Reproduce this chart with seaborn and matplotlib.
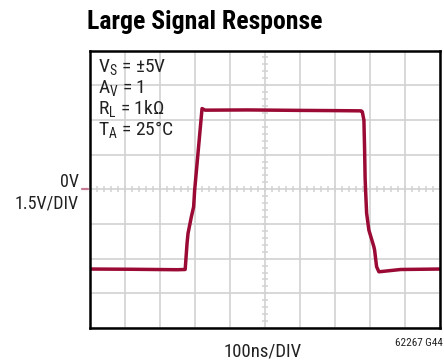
import numpy as np
import pandas as pd
import matplotlib
matplotlib.use("Agg")
import matplotlib.pyplot as plt
from matplotlib import font_manager
import seaborn as sns

# Scope trace: time in ns, voltage in V
time_ns = [0, 120, 250, 273.0, 278.3, 281.1, 290.6, 297.1, 300.0, 321.1, 330.0,
           450, 600, 700, 775.0, 778.3, 782.9, 784.9, 786.3, 787.7, 790.6,
           797.1, 811.4, 813.4, 819.1, 825.7, 887.7, 1000]
volts = [-3.45, -3.46, -3.48, -3.47, -2.34, -1.91, -1.19, -0.76, -0.04, 3.49, 3.42,
         3.43, 3.41, 3.40, 3.39, 3.35, 2.99, 1.70, 0.50, -0.04, -1.03,
         -1.77, -2.49, -2.63, -3.35, -3.57, -3.47, -3.45]

conditions = [r"V$_\mathregular{S}$ = ±5V", r"A$_\mathregular{V}$ = 1",
              r"R$_\mathregular{L}$ = 1kΩ", r"T$_\mathregular{A}$ = 25°C"]
title = "Large Signal Response"
x_label = "100ns/DIV"
y_labels = ["0V", "1.5V/DIV"]
figure_id = "62267 G44"

TRACE = "#9a0a34"
GRID = "#d2d2d2"

sns.set_style("white")


def pick_font(names):
    for n in names:
        try:
            font_manager.findfont(font_manager.FontProperties(family=n),
                                  fallback_to_default=False)
            return n
        except Exception:
            continue
    return "DejaVu Sans"


FONT = pick_font(["Liberation Sans Narrow", "Roboto Condensed", "Liberation Sans"])
plt.rcParams["font.family"] = [FONT, "DejaVu Sans"]
plt.rcParams["mathtext.fontset"] = "custom"
plt.rcParams["mathtext.rm"] = FONT

W, H = 444, 364
fig = plt.figure(figsize=(W / 100, H / 100), dpi=100)
ax = fig.add_axes([89.5 / W, 1 - 328.0 / H, 350.5 / W, 277.5 / H])

df = pd.DataFrame({"t": time_ns, "v": volts})
sns.lineplot(data=df, x="t", y="v", sort=False, estimator=None, ax=ax,
             color=TRACE, lw=2.5, zorder=5)

ax.set_xlim(0, 1000)
ax.set_ylim(-6, 6)
ax.set_xticks(np.arange(0, 1001, 100))
ax.set_yticks(np.arange(-6, 6.01, 1.5))
ax.grid(True, color=GRID, lw=1.2)
ax.tick_params(length=0, labelbottom=False, labelleft=False)
ax.set_xlabel("")
ax.set_ylabel("")
for s in ax.spines.values():
    s.set_color("black")
    s.set_linewidth(1.8)
    s.set_zorder(6)

# minor ticks along the centre cross-hair
xt = np.arange(0, 1001, 20)
ax.vlines(xt, -0.12, 0.12, color=GRID, lw=1.1, zorder=2)
yt = np.arange(-6, 6.01, 0.3)
ax.hlines(yt, 500 - 8, 500 + 8, color=GRID, lw=1.1, zorder=2)

# ground marker left of the frame
ax.plot([-20, -5], [0, 0], color="#c77b92", lw=1.6, clip_on=False,
        transform=ax.transData)

# condition block, one text with four lines
fig.text(98 / W, 1 - 58 / H, "\n".join(conditions), fontsize=14,
         va="top", ha="left", color="#222222", linespacing=1.0)

fig.text(205 / W, 1 - 28.5 / H, title, fontsize=18.5, fontweight="bold",
         ha="center", va="baseline", color="black")
fig.text(78.5 / W, 1 - 186.7 / H, y_labels[0], fontsize=13, ha="right",
         va="baseline", color="#222222")
fig.text(78.5 / W, 1 - 208.3 / H, y_labels[1], fontsize=13, ha="right",
         va="baseline", color="#222222")
fig.text(262.5 / W, 1 - 356.7 / H, x_label, fontsize=13.5, ha="center",
         va="baseline", color="#222222")
fig.text(443 / W, 1 - 346 / H, figure_id, fontsize=8, ha="right",
         va="baseline", color="#222222")

fig.savefig("out.png", dpi=100)
